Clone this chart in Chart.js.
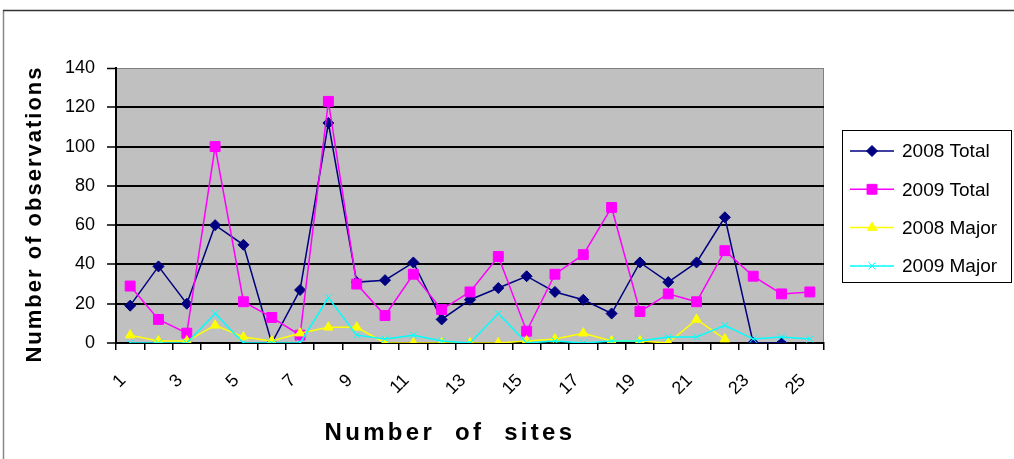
<!DOCTYPE html>
<html>
<head>
<meta charset="utf-8">
<title>Observations per site</title>
<script src="https://cdn.jsdelivr.net/npm/chart.js@4/dist/chart.umd.min.js"></script>
<style>
  html, body { margin: 0; padding: 0; background: #ffffff; }
  #wrap { position: relative; width: 1014px; height: 459px; }
</style>
</head>
<body>
<div id="wrap"><canvas id="chart"></canvas></div>
<script>
// Sites along the x axis
const sites = ['1','2','3','4','5','6','7','8','9','10','11','12','13','14','15','16','17','18','19','20','21','22','23','24','25'];

// Observation counts per site
const total2008 = [19, 39, 20, 60, 50, 0, 27, 112, 31, 32, 41, 12, 22, 28, 34, 26, 22, 15, 41, 31, 41, 64, 0, 0, null];
const total2009 = [29, 12, 5, 100, 21, 13, 4, 123, 30, 14, 35, 17, 26, 44, 6, 35, 45, 69, 16, 25, 21, 47, 34, 25, 26];
const major2008 = [4, 1, 1, 9, 3, 1, 5, 8, 8, 0, 0, 0, 0, 0, 1, 2, 5, 1, 1, 0, 12, 2, null, null, null];
const major2009 = [0, 0, 0, 15, 0, 0, 0, 23, 4, 2, 4, 1, 0, 15, 0, 1, 0, 1, 1, 3, 3, 9, 2, 3, 2];

const seriesNames = ['2008 Total', '2009 Total', '2008 Major', '2009 Major'];
const yTicks = [0, 20, 40, 60, 80, 100, 120, 140];

const FONT = '"Liberation Sans", Arial, sans-serif';

function series(label, data, color, style, radius, order) {
  return {
    label, data,
    borderColor: color,
    backgroundColor: color,
    pointBackgroundColor: color,
    pointBorderColor: color,
    borderWidth: 1.5,
    pointStyle: style,
    pointRadius: radius,
    pointBorderWidth: 1,
    pointHoverRadius: radius,
    tension: 0,
    order
  };
}

// Background, frame, axis titles and boxed legend
const decor = {
  id: 'decor',
  beforeDraw(chart) {
    const { ctx, chartArea: a } = chart;
    ctx.save();
    ctx.fillStyle = '#ffffff';
    ctx.fillRect(0, 0, chart.width, chart.height);
    ctx.lineWidth = 1.5;
    ctx.strokeStyle = '#888888';
    ctx.beginPath(); ctx.moveTo(3.5, chart.height); ctx.lineTo(3.5, 10.5); ctx.stroke();
    ctx.strokeStyle = '#333333';
    ctx.beginPath(); ctx.moveTo(3, 10.5); ctx.lineTo(chart.width, 10.5); ctx.stroke();
    ctx.fillStyle = '#C0C0C0';
    ctx.fillRect(a.left, a.top, a.right - a.left, a.bottom - a.top);
    ctx.strokeStyle = '#808080';
    ctx.lineWidth = 1;
    ctx.beginPath();
    ctx.moveTo(a.left, a.top + 0.5); ctx.lineTo(a.right - 0.5, a.top + 0.5); ctx.lineTo(a.right - 0.5, a.bottom);
    ctx.stroke();
    ctx.restore();
  },
  afterDraw(chart) {
    const { ctx } = chart;
    ctx.save();
    ctx.fillStyle = '#000000';
    ctx.textAlign = 'center';
    ctx.textBaseline = 'middle';

    // y axis title
    ctx.save();
    ctx.translate(35, 214);
    ctx.rotate(-Math.PI / 2);
    ctx.font = 'bold 22px ' + FONT;
    ctx.letterSpacing = '2px';
    ctx.fillText('Number of observations', 0, 0);
    ctx.restore();

    // x axis title
    ctx.font = 'bold 24px ' + FONT;
    ctx.letterSpacing = '3.3px';
    ctx.fillText('Number  of  sites', 450, 433);
    ctx.letterSpacing = '0px';

    // legend box
    const bx = 842, by = 130, bw = 170, bh = 153;
    ctx.strokeStyle = '#000000';
    ctx.lineWidth = 1;
    ctx.strokeRect(bx + 0.5, by + 0.5, bw - 1, bh - 1);
    ctx.textAlign = 'left';
    ctx.font = '19px ' + FONT;
    chart.data.datasets.forEach((ds, i) => {
      const cy = 151 + i * 38.3;
      ctx.strokeStyle = ds.borderColor;
      ctx.lineWidth = 1.5;
      ctx.beginPath(); ctx.moveTo(850, cy); ctx.lineTo(894, cy); ctx.stroke();
      ctx.fillStyle = ds.pointBackgroundColor;
      ctx.strokeStyle = ds.pointBorderColor;
      ctx.lineWidth = 1;
      Chart.helpers.drawPoint(ctx, { pointStyle: ds.pointStyle, radius: ds.pointRadius, borderWidth: 1, rotation: 0 }, 872, cy);
      ctx.fillStyle = '#000000';
      ctx.fillText(ds.label, 902, cy + 1);
    });
    ctx.restore();
  }
};

new Chart(document.getElementById('chart'), {
  type: 'line',
  data: {
    labels: sites,
    datasets: [
      series(seriesNames[0], total2008, '#000080', 'rectRot', 5.5, 4),
      series(seriesNames[1], total2009, '#FF00FF', 'rect', 7, 3),
      series(seriesNames[2], major2008, '#FFFF00', 'triangle', 5.5, 2),
      series(seriesNames[3], major2009, '#00FFFF', 'crossRot', 5, 1)
    ]
  },
  options: {
    responsive: true,
    maintainAspectRatio: false,
    animation: false,
    events: [],
    layout: { padding: { left: 0, top: 68, right: 190, bottom: 0 } },
    plugins: { legend: { display: false }, tooltip: { enabled: false } },
    scales: {
      x: {
        offset: true,
        afterFit(scale) { scale.height = 116; },
        grid: {
          display: true, offset: true, drawOnChartArea: false, drawTicks: true,
          tickLength: 7, color: '#000000', lineWidth: 1.5
        },
        border: { display: true, color: '#000000', width: 2 },
        ticks: {
          autoSkip: false,
          minRotation: 45, maxRotation: 45,
          padding: 20,
          labelOffset: -7,
          color: '#000000',
          font: { family: FONT, size: 18 },
          callback(value, index) { return index % 2 === 0 ? sites[index] : ''; }
        }
      },
      y: {
        min: yTicks[0], max: yTicks[yTicks.length - 1],
        afterFit(scale) { scale.width = 116; },
        afterBuildTicks(scale) { scale.ticks = yTicks.map(v => ({ value: v })); },
        grid: {
          color: c => (c.tick && c.tick.value === 140 ? '#808080' : '#000000'),
          tickColor: '#000000',
          lineWidth: c => (c.tick && c.tick.value === 140 ? 1 : 2),
          tickWidth: 1.5,
          tickLength: 9
        },
        border: { display: true, color: '#000000', width: 2 },
        ticks: {
          padding: 12,
          color: '#000000',
          font: { family: FONT, size: 18 }
        }
      }
    }
  },
  plugins: [decor]
});
</script>
</body>
</html>
